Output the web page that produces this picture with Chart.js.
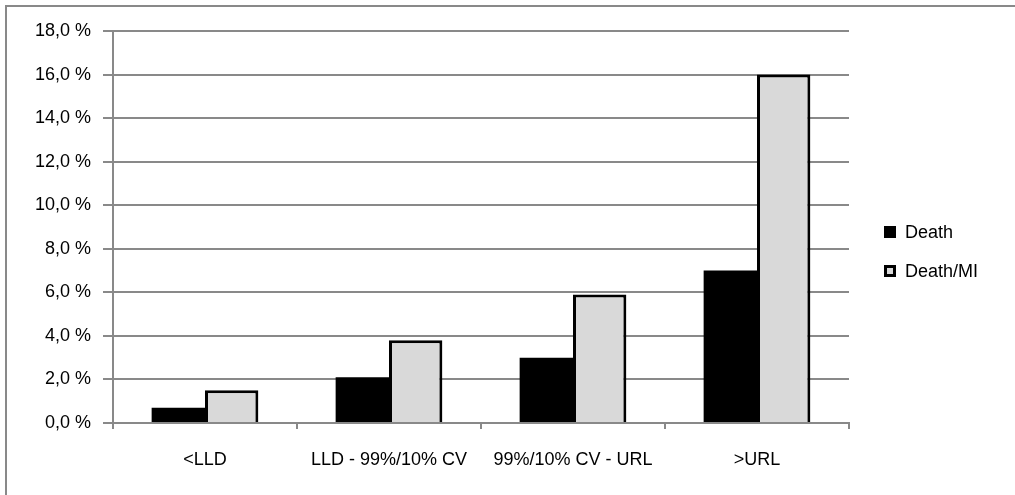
<!DOCTYPE html>
<html lang="en">
<head>
  <meta charset="UTF-8">
  <title>Death and Death/MI by category</title>
  <script src="https://cdn.jsdelivr.net/npm/chart.js"></script>
  <style>
    body { margin: 0; background: #fff; }
  </style>
</head>
<body>
  <canvas id="myChart" width="1015" height="495"></canvas>
  <script>
    // Data
    const categories = ['<LLD', 'LLD - 99%/10% CV', '99%/10% CV - URL', '>URL'];
    const seriesNames = ['Death', 'Death/MI'];
    const deathValues = [0.7, 2.1, 3.0, 7.0];
    const deathMiValues = [1.5, 3.8, 5.9, 16.0];
    const yTicks = [0, 2, 4, 6, 8, 10, 12, 14, 16, 18];

    const gridGray = '#898989';
    const fontFamily = '"Liberation Sans", Arial, sans-serif';

    // frame: only the top and left edges are visible (rest is cut off)
    const framePlugin = {
      id: 'frame',
      beforeDraw(chart) {
        const c = chart.ctx;
        c.save();
        c.fillStyle = '#fff';
        c.fillRect(0, 0, chart.width, chart.height);
        c.strokeStyle = gridGray;
        c.lineWidth = 2;
        c.beginPath();
        c.moveTo(6, chart.height);
        c.lineTo(6, 6);
        c.lineTo(chart.width, 6);
        c.stroke();
        c.restore();
      }
    };

    // legend drawn to the right of the plot, Excel style
    const sideLegend = {
      id: 'sideLegend',
      afterDraw(chart) {
        const c = chart.ctx;
        const x = chart.chartArea.right + 35;
        const y0 = 232;
        const gap = 39;
        c.save();
        c.font = '18px ' + fontFamily;
        c.textBaseline = 'middle';
        chart.data.datasets.forEach((ds, i) => {
          const y = y0 + i * gap;
          c.fillStyle = ds.backgroundColor;
          c.fillRect(x, y - 6, 12, 12);
          if (ds.borderWidth) {
            c.strokeStyle = '#000';
            c.lineWidth = 3;
            c.strokeRect(x + 1.5, y - 4.5, 9, 9);
          }
          c.fillStyle = '#000';
          c.fillText(ds.label, x + 21, y + 1);
        });
        c.restore();
      }
    };

    const data = {
      labels: categories,
      datasets: [{
        label: seriesNames[0],
        data: deathValues,
        backgroundColor: '#000000',
        borderWidth: 0
      }, {
        label: seriesNames[1],
        data: deathMiValues,
        backgroundColor: '#d9d9d9',
        borderColor: '#000000',
        borderWidth: 3
      }]
    };

    const ctx = document.getElementById('myChart').getContext('2d');
    const myChart = new Chart(ctx, {
      type: 'bar',
      data: data,
      plugins: [framePlugin, sideLegend],
      options: {
        responsive: false,
        animation: false,
        layout: { padding: { left: 0, top: 31, right: 166, bottom: 0 } },
        plugins: {
          legend: { display: false },
          tooltip: { enabled: false }
        },
        datasets: {
          bar: { categoryPercentage: 0.58, barPercentage: 1.0 }
        },
        scales: {
          x: {
            grid: {
              display: true,
              drawOnChartArea: false,
              drawTicks: true,
              tickLength: 6,
              color: gridGray,
              lineWidth: 2
            },
            border: { display: true, color: gridGray, width: 2 },
            ticks: {
              color: '#000',
              font: { family: fontFamily, size: 18 },
              padding: 20,
              maxRotation: 0,
              autoSkip: false
            },
            afterFit(scale) { scale.height = 72; }
          },
          y: {
            min: 0,
            max: 18,
            afterBuildTicks(scale) {
              scale.ticks = yTicks.map(v => ({ value: v }));
            },
            grid: {
              color: gridGray,
              lineWidth: 2,
              drawTicks: true,
              tickLength: 10
            },
            border: { display: true, color: gridGray, width: 2 },
            ticks: {
              color: '#000',
              font: { family: fontFamily, size: 18 },
              padding: 12,
              callback: (v) => v.toFixed(1).replace('.', ',') + ' %'
            },
            afterFit(scale) { scale.width = 113; }
          }
        }
      }
    });
  </script>
</body>
</html>
